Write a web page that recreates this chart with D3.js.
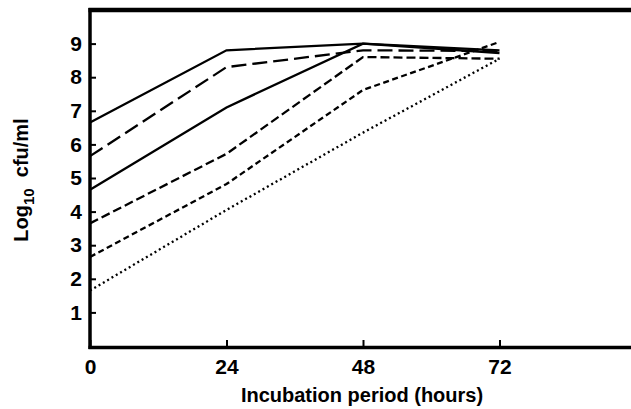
<!DOCTYPE html>
<html>
<head>
<meta charset="utf-8">
<script src="https://cdn.jsdelivr.net/npm/d3@7"></script>
<style>
  body { margin: 0; background: #fff; }
  text { font-family: "Liberation Sans", Arial, sans-serif; font-weight: bold; fill: #000; }
</style>
</head>
<body>
<div id="chart"></div>
<script>
// incubation time points (hours)
const hours = [0, 24, 48, 72];
const xTicks = [0, 24, 48, 72];
const yTicks = [1, 2, 3, 4, 5, 6, 7, 8, 9];

// log10 cfu/ml for each inoculum
const seriesA = [6.65, 8.8, 9.0, 8.8];
const seriesB = [5.65, 8.3, 8.8, 8.78];
const seriesC = [4.65, 7.1, 9.0, 8.72];
const seriesD = [3.65, 5.72, 8.6, 8.55];
const seriesE = [2.65, 4.82, 7.62, 9.05];
const seriesF = [1.65, 4.05, 6.35, 8.55];

const svgWidth = 631;
const svgHeight = 409;

const svg = d3.select("#chart").append("svg")
    .attr("width", svgWidth)
    .attr("height", svgHeight);

const xScale = d3.scaleLinear().domain([0, 96]).range([90, 636]);
const yScale = d3.scaleLinear().domain([0, 10]).range([346, 10]);

// line styles
const series = [
    { values: seriesA, dash: null },
    { values: seriesB, dash: "15,6" },
    { values: seriesC, dash: null },
    { values: seriesD, dash: "9,4" },
    { values: seriesE, dash: "6,3.5" },
    { values: seriesF, dash: "2,3" }
];

const line = d3.line()
    .x((d, i) => xScale(hours[i]))
    .y(d => yScale(d));

svg.selectAll("path.series").data(series)
    .enter().append("path")
    .attr("class", "series")
    .attr("d", d => line(d.values))
    .attr("fill", "none")
    .attr("stroke", "#000")
    .attr("stroke-width", 2.3)
    .attr("stroke-dasharray", d => d.dash);

// y axis, ticks pointing inward
const yAxis = d3.axisLeft(yScale)
    .tickValues(yTicks)
    .tickSize(-6)
    .tickPadding(8);

const yAxisG = svg.append("g")
    .attr("transform", `translate(${xScale(0)},0)`)
    .call(yAxis);

yAxisG.select(".domain").remove();
yAxisG.selectAll(".tick line").attr("stroke", "#000").attr("stroke-width", 2);
yAxisG.selectAll(".tick text")
    .attr("font-size", "21px")
    .style("font-family", "'Liberation Sans', Arial, sans-serif")
    .style("font-weight", "bold");

// x axis, ticks pointing up
const xAxis = d3.axisBottom(xScale)
    .tickValues(xTicks)
    .tickSize(-6)
    .tickPadding(13);

const xAxisG = svg.append("g")
    .attr("transform", `translate(0,${yScale(0)})`)
    .call(xAxis);

xAxisG.select(".domain").remove();
xAxisG.selectAll(".tick line").attr("stroke", "#000").attr("stroke-width", 2);
xAxisG.selectAll(".tick text")
    .attr("font-size", "21px")
    .style("font-family", "'Liberation Sans', Arial, sans-serif")
    .style("font-weight", "bold");

// frame: left, bottom, top
svg.append("line")
    .attr("x1", xScale(0)).attr("x2", xScale(0))
    .attr("y1", yScale(10) - 2).attr("y2", yScale(0) + 3)
    .attr("stroke", "#000").attr("stroke-width", 3.5);

svg.append("line")
    .attr("x1", xScale(0) - 1.5).attr("x2", svgWidth)
    .attr("y1", yScale(0) + 1.5).attr("y2", yScale(0) + 1.5)
    .attr("stroke", "#000").attr("stroke-width", 3.5);

svg.append("line")
    .attr("x1", xScale(0) - 1.5).attr("x2", svgWidth)
    .attr("y1", yScale(10)).attr("y2", yScale(10))
    .attr("stroke", "#000").attr("stroke-width", 4.5);

// axis titles
svg.append("text")
    .attr("x", 362)
    .attr("y", 402)
    .attr("text-anchor", "middle")
    .attr("font-size", "20px")
    .text("Incubation period (hours)");

const yTitle = svg.append("text")
    .attr("transform", "translate(28,180) rotate(-90)")
    .attr("text-anchor", "middle")
    .attr("font-size", "20px");
yTitle.append("tspan").text("Log");
yTitle.append("tspan").attr("dy", 6).attr("font-size", "15px").text("10");
yTitle.append("tspan").attr("dy", -6).text("\u00a0\u00a0cfu/ml");
</script>
</body>
</html>
